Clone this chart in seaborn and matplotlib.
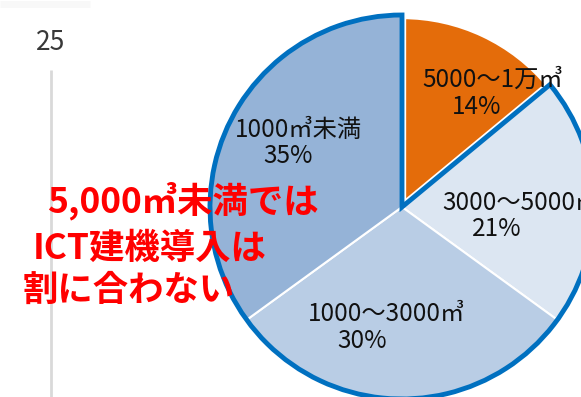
import matplotlib
matplotlib.use("Agg")
import matplotlib.pyplot as plt
from matplotlib.patches import Wedge
import seaborn as sns

# Share of construction works by earthwork volume
categories = ["5000～1万㎥", "3000～5000㎥", "1000～3000㎥", "1000㎥未満"]
shares = [14, 21, 30, 35]
colors = ["#E46C0A", "#DCE6F2", "#B9CDE5", "#95B3D7"]
note_lines = ["5,000㎥未満では", "ICT建機導入は", "割に合わない"]
axis_tick = "25"

sns.set_theme(style="white")
plt.rcParams["font.family"] = ["Liberation Sans Narrow", "Noto Sans CJK JP", "DejaVu Sans"]

W, H = 581, 397
fig = plt.figure(figsize=(W / 100, H / 100), dpi=100)
ax = fig.add_axes([0, 0, 1, 1])

# remnants of the neighbouring bar chart axis
ax.plot([51, 51], [0, 327], color="#D9D9D9", lw=2, solid_capstyle="butt", zorder=1)
ax.plot([0, 90], [393, 393], color="#F8F8F8", lw=5, solid_capstyle="butt", zorder=1)
ax.text(51, 355, axis_tick, ha="center", va="center", fontsize=19, color="#383838")

cx, cy, r = 402, 190, 192
wedges, _ = ax.pie(
    shares, colors=colors, startangle=90, counterclock=False,
    center=(cx, cy), radius=r, frame=True,
    wedgeprops=dict(edgecolor="white", linewidth=1.5),
)
ax.set_xlim(0, W)
ax.set_ylim(0, H)
ax.set_aspect("equal")
ax.axis("off")

# orange slice sits inset, the rest of the pie carries a blue outline
wedges[0].set_linewidth(6)
start = 90 - shares[0] / 100 * 360
ax.add_patch(Wedge((cx, cy), r, 90, start + 360, fill=False,
                   edgecolor="#0070C0", linewidth=3.5, zorder=5))

label_pos = [((422, 317), (452, 290)),
             ((442, 194), (472, 168)),
             ((308, 83), (337, 56)),
             ((235, 267), (263, 241))]
for name, v, (p1, p2) in zip(categories, shares, label_pos):
    ax.text(*p1, name, ha="left", va="center", fontsize=17.5, color="#111111", zorder=6)
    ax.text(*p2, f"{v}%", ha="left", va="center", fontsize=17.5, color="#111111", zorder=6)

note_pos = [(47, 196), (33, 149), (23, 107)]
for line, (x, y) in zip(note_lines, note_pos):
    ax.text(x, y, line, ha="left", va="center", fontsize=25.5, color="#FF0000",
            family=["Noto Sans CJK JP", "DejaVu Sans"], fontweight="bold", zorder=7)

fig.savefig("out.png", dpi=100)
